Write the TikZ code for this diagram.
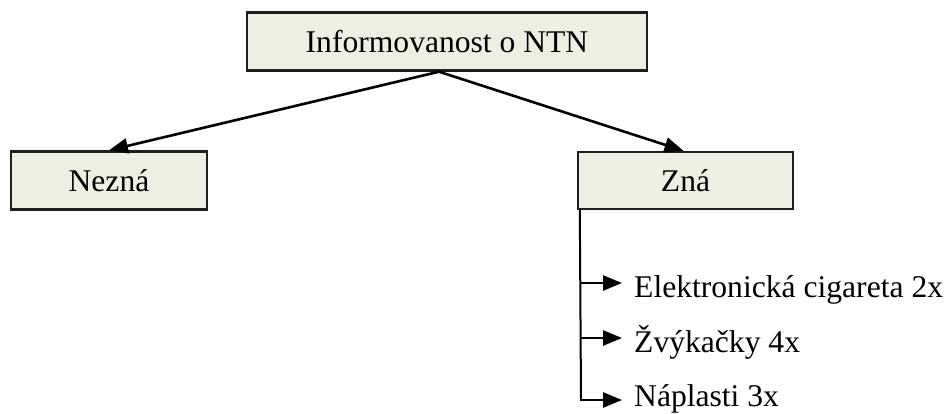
\documentclass[tikz,border=0pt]{standalone}
\usepackage{fontspec}
\setmainfont{Liberation Serif}
\usetikzlibrary{arrows.meta}
\definecolor{boxfill}{HTML}{EDEFE3}
\definecolor{boxline}{HTML}{1E1E1E}
\tikzset{
  x=1pt, y=-1pt,
  box/.style={draw=boxline, line width=2.4pt, fill=boxfill, inner sep=0pt,
    font=\fontsize{31.6}{38}\selectfont},
  link/.style={line width=2.6pt, -{Triangle[length=19pt,width=15pt]}},
  itemtext/.style={anchor=base west, inner sep=0pt,
    font=\fontsize{31.6}{38}\selectfont},
  trunk/.style={line width=2pt}
}
\begin{document}
\begin{tikzpicture}
\useasboundingbox (0,0) rectangle (949,413);

% boxes
\node[box, minimum width=400pt, minimum height=58pt] (top) at (447,41.5) {Informovanost o NTN};
\node[box, minimum width=196pt, minimum height=58pt] (nezna) at (109,180.5) {Nezná};
\node[box, minimum width=215pt, minimum height=57pt] (zna) at (685.5,180.5) {Zná};

% branches from the top box
\coordinate (apex) at ([xshift=-8pt]top.south);
\draw[link] (apex) -- (nezna.north);
\draw[link] (apex) -- ([xshift=-2pt]zna.north);

% list under "Zná"
\coordinate (t0) at ([xshift=3pt]zna.south west);
\coordinate (b1) at (581,283);
\coordinate (b2) at (581,338);
\coordinate (b3) at (581,400);
\node[itemtext] (e1) at (634,297) {Elektronická cigareta 2x};
\node[itemtext] (e2) at (634,352) {Žvýkačky 4x};
\node[itemtext] (e3) at (634,406) {Náplasti 3x};

\draw[trunk] (t0) -- (b3);
\draw[link] (b1) -- (b1 -| 622,0);
\draw[link] (b2) -- (b2 -| 622,0);
\draw[link] ([xshift=-1pt]b3) -- (b3 -| 622,0);
\end{tikzpicture}
\end{document}
